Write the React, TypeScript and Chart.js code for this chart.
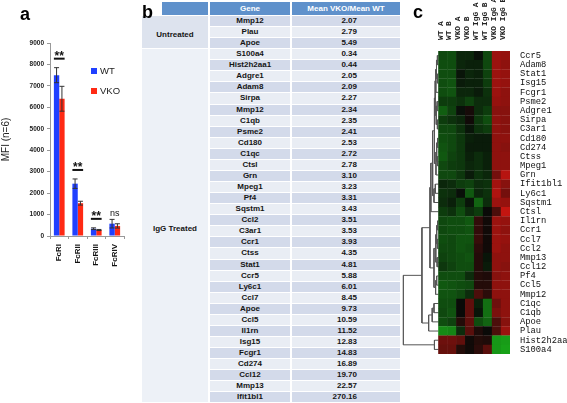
import React, { useEffect, useRef } from 'react';
import { Chart, registerables } from 'chart.js';
Chart.register(...registerables);

// ---------- Panel a data ----------
const receptors = ['FcRI', 'FcRII', 'FcRIII', 'FcRIV'];
const wtMean = [7500, 2440, 340, 575];
const wtErr = [350, 220, 40, 200];
const vkoMean = [6400, 1530, 280, 470];
const vkoErr = [580, 90, 25, 100];
const significance = ['**', '**', '**', 'ns'];
const seriesNames = ['WT', 'VKO'];

// ---------- Panel b data ----------
const untreatedGenes = ['Mmp12', 'Plau', 'Apoe'];
const untreatedRatios = ['2.07', '2.79', '5.49'];
const iggGenes = ['S100a4', 'Hist2h2aa1', 'Adgre1', 'Adam8', 'Sirpa', 'Mmp12', 'C1qb', 'Psme2', 'Cd180', 'C1qc', 'Ctsl', 'Grn', 'Mpeg1', 'Pf4', 'Sqstm1', 'Ccl2', 'C3ar1', 'Ccr1', 'Ctss', 'Stat1', 'Ccr5', 'Ly6c1', 'Ccl7', 'Apoe', 'Ccl5', 'Il1rn', 'Isg15', 'Fcgr1', 'Cd274', 'Ccl12', 'Mmp13', 'Ifit1bl1'];
const iggRatios = ['0.34', '0.44', '2.05', '2.09', '2.27', '2.34', '2.35', '2.41', '2.53', '2.72', '2.78', '3.10', '3.23', '3.31', '3.43', '3.51', '3.53', '3.93', '4.35', '4.81', '5.88', '6.01', '8.45', '9.73', '10.59', '11.52', '12.83', '14.83', '16.89', '19.70', '22.57', '270.16'];
const tableHeaders = ['Gene', 'Mean VKO/Mean WT'];
const groupNames = ['Untreated', 'IgG Treated'];

// ---------- Panel c data ----------
const heatCols = ['WT A', 'WT B', 'VKO A', 'VKO B', 'WT IgG A', 'WT IgG B', 'VKO IgG A', 'VKO IgG B'];
const heatGenes = ['Ccr5', 'Adam8', 'Stat1', 'Isg15', 'Fcgr1', 'Psme2', 'Adgre1', 'Sirpa', 'C3ar1', 'Cd180', 'Cd274', 'Ctss', 'Mpeg1', 'Grn', 'Ifit1bl1', 'Ly6c1', 'Sqstm1', 'Ctsl', 'Il1rn', 'Ccr1', 'Ccl7', 'Ccl2', 'Mmp13', 'Ccl12', 'Pf4', 'Ccl5', 'Mmp12', 'C1qc', 'C1qb', 'Apoe', 'Plau', 'Hist2h2aa1', 'S100a4'];
const heatValues = [
  [-1.1, -1.2, -0.5, -0.5, -0.1, -1.1, 2.2, 2.1],
  [-1.2, -1.2, -0.5, -0.4, -0.4, -1.1, 2.2, 2.0],
  [-1.2, -1.2, -0.2, -0.5, -0.4, -1.0, 2.2, 2.1],
  [-1.2, -1.3, -0.3, -0.4, -0.4, -0.9, 2.2, 2.1],
  [-1.2, -1.3, -0.5, -0.5, -0.3, -0.7, 2.2, 2.0],
  [-0.9, -0.9, -0.7, -1.0, -0.6, -0.6, 2.1, 2.0],
  [-1.5, -1.0, -0.1, 0.2, -0.6, -0.9, 1.9, 1.9],
  [-0.9, -0.7, -0.5, 0.1, -0.8, -1.2, 2.0, 1.9],
  [-1.1, -1.1, -0.7, -0.2, -0.7, -0.9, 2.0, 1.9],
  [-1.2, -1.1, -0.8, -0.4, -0.3, -0.3, 2.0, 2.0],
  [-1.3, -1.1, -0.8, -0.3, -0.3, -0.3, 2.0, 1.9],
  [-1.4, -1.0, -0.8, -0.4, -0.6, -0.4, 2.0, 2.0],
  [-1.1, -0.9, -0.8, -0.5, -0.6, -0.4, 2.0, 2.0],
  [-1.1, -1.1, -0.8, -0.3, -0.7, -0.5, 1.6, 2.6],
  [-0.5, -0.6, -0.9, -1.0, -0.6, -0.7, 2.3, 1.9],
  [-0.7, -0.6, -0.1, -1.4, -0.5, -0.7, 2.5, 1.6],
  [-0.6, -0.4, -0.9, -0.2, -1.6, -0.6, 2.2, 2.1],
  [-0.9, -0.7, -1.2, -0.6, -0.9, 0.0, 1.0, 2.8],
  [-1.1, -1.2, -1.2, -1.4, 0.6, 0.1, 2.2, 2.1],
  [-1.1, -1.2, -1.2, -1.3, 0.6, 0.1, 2.2, 2.0],
  [-1.2, -1.1, -1.3, -1.3, 0.7, 0.1, 2.2, 2.1],
  [-1.1, -1.1, -1.3, -1.2, 0.5, 0.1, 2.2, 2.0],
  [-1.0, -1.1, -1.2, -1.3, 0.4, -0.2, 2.0, 2.0],
  [-0.8, -1.0, -1.2, -1.2, 0.4, -0.3, 2.0, 1.9],
  [-1.2, -1.2, -1.2, -0.6, 0.4, 0.3, 1.9, 2.0],
  [-1.4, -1.3, -1.2, -1.1, 0.4, 0.4, 2.0, 2.0],
  [-1.3, -1.3, -1.1, -0.6, 1.0, 0.5, 2.0, 2.0],
  [-1.2, -1.2, 0.0, 1.3, -0.4, -1.8, 1.5, 2.0],
  [-1.1, -1.3, 0.0, 1.3, -0.2, -1.8, 1.7, 2.0],
  [-1.2, -1.0, 0.4, 1.3, -1.2, -1.6, 1.0, 1.9],
  [-2.3, -2.2, -0.6, 1.2, 0.3, 0.0, 1.0, 2.2],
  [1.5, 1.5, 1.3, 0.1, 0.4, 0.3, -2.5, -2.6],
  [1.4, 1.4, 0.4, 0.1, 0.5, 1.2, -2.5, -2.7],
];
// dendrogram merges: [childA, childB, height]; ids 0..32 are rows, 33+ are merges in order
const dendroMerges: [number, number, number][] = [
  [0, 1, 0.12], [2, 3, 0.12], [33, 34, 0.22], [35, 4, 0.3],
  [5, 6, 0.15], [7, 8, 0.12], [37, 38, 0.25], [36, 39, 0.38],
  [9, 10, 0.1], [11, 12, 0.12], [41, 42, 0.2], [43, 13, 0.28],
  [40, 44, 0.45], [14, 15, 0.35], [46, 16, 0.5], [45, 47, 0.65],
  [48, 17, 0.85], [18, 19, 0.1], [20, 21, 0.12], [50, 51, 0.2],
  [22, 23, 0.15], [52, 53, 0.3], [24, 25, 0.2], [55, 26, 0.32],
  [54, 56, 0.5], [49, 57, 0.95], [27, 28, 0.5], [59, 29, 0.7],
  [60, 30, 1.1], [58, 61, 1.85], [31, 32, 0.45], [62, 63, 3.95],
];

const FONT = '"Liberation Sans", Arial, sans-serif';
const MONO = '"Liberation Mono", "Courier New", monospace';

function heatColor(v: number) {
  if (v >= 0) {
    const r = Math.min(255, Math.round(10 + 66 * v));
    return `rgb(${r},${Math.round(10 + 4 * v)},${Math.round(8 + 3 * v)})`;
  }
  const a = -v;
  const g = Math.min(255, Math.round(10 + 56 * a));
  return `rgb(${Math.round(8 + 6 * a)},${g},${Math.round(8 + 6 * a)})`;
}

const barOverlay = {
  id: 'barOverlay',
  afterDatasetsDraw(chart: any) {
    const ctx = chart.ctx;
    const y = chart.scales.y;
    const errs = [wtErr, vkoErr];
    const means = [wtMean, vkoMean];
    ctx.save();
    chart.data.datasets.forEach((ds: any, i: number) => {
      const meta = chart.getDatasetMeta(i);
      meta.data.forEach((bar: any, j: number) => {
        const v = means[i][j], e = errs[i][j];
        const yt = y.getPixelForValue(v + e), yb = y.getPixelForValue(v - e);
        ctx.strokeStyle = '#333';
        ctx.lineWidth = 1;
        ctx.beginPath();
        ctx.moveTo(bar.x, yb); ctx.lineTo(bar.x, yt);
        ctx.moveTo(bar.x - 2.5, yt); ctx.lineTo(bar.x + 2.5, yt);
        ctx.moveTo(bar.x - 2.5, yb); ctx.lineTo(bar.x + 2.5, yb);
        ctx.stroke();
      });
    });
    receptors.forEach((_, j) => {
      const b0 = chart.getDatasetMeta(0).data[j];
      const b1 = chart.getDatasetMeta(1).data[j];
      const top = Math.min(y.getPixelForValue(wtMean[j] + wtErr[j]), y.getPixelForValue(vkoMean[j] + vkoErr[j]));
      const cx = (b0.x + b1.x) / 2;
      ctx.fillStyle = '#111';
      ctx.textAlign = 'center';
      ctx.textBaseline = 'alphabetic';
      if (significance[j] === '**') {
        const ly = top - 9;
        ctx.strokeStyle = '#111';
        ctx.lineWidth = 2;
        ctx.beginPath();
        ctx.moveTo(b0.x - b0.width / 2, ly); ctx.lineTo(b1.x + b1.width / 2, ly);
        ctx.stroke();
        ctx.font = `bold 12px ${FONT}`;
        ctx.fillText(significance[j], cx, ly + 1);
      } else {
        ctx.font = `9px ${FONT}`;
        ctx.fillText(significance[j], cx, top - 3);
      }
    });
    chart.data.datasets.forEach((ds: any, i: number) => {
      const ly = 71 + i * 20;
      ctx.fillStyle = ds.backgroundColor;
      ctx.fillRect(91, ly - 3, 6, 6);
      ctx.fillStyle = '#222';
      ctx.font = `9.5px ${FONT}`;
      ctx.textAlign = 'left';
      ctx.textBaseline = 'middle';
      ctx.fillText(ds.label, 100, ly + 0.5);
    });
    ctx.restore();
  },
};

function BarPanel() {
  const ref = useRef<HTMLCanvasElement>(null);
  useEffect(() => {
    const chart = new Chart(ref.current!, {
      type: 'bar',
      data: {
        labels: receptors,
        datasets: [
          { label: seriesNames[0], data: wtMean, backgroundColor: '#2040ff' },
          { label: seriesNames[1], data: vkoMean, backgroundColor: '#ff2a14' },
        ],
      },
      options: {
        animation: false,
        responsive: false,
        devicePixelRatio: 1,
        events: [],
        layout: { padding: { top: 43, right: 16, left: 0, bottom: 0 } },
        datasets: { bar: { categoryPercentage: 0.58, barPercentage: 1 } },
        plugins: { legend: { display: false }, tooltip: { enabled: false } },
        scales: {
          x: {
            grid: { drawOnChartArea: false, tickLength: 3, color: '#999' },
            border: { color: '#999' },
            ticks: { minRotation: 90, maxRotation: 90, padding: 5, color: '#111', font: { family: FONT, size: 8, weight: 'bold' } },
            afterFit: (s: any) => { s.height = 54; },
          },
          y: {
            min: 0, max: 9000,
            ticks: { stepSize: 1000, padding: 3, color: '#222', font: { family: FONT, size: 6.5, weight: 'bold' }, callback: (v: any) => String(v) },
            grid: { drawOnChartArea: false, tickLength: 3, color: '#999' },
            border: { color: '#999' },
            title: { display: true, text: 'MFI (n=6)', color: '#222', font: { family: FONT, size: 10 }, padding: 0 },
            afterFit: (s: any) => { s.width = 50; },
          },
        },
      } as any,
      plugins: [barOverlay],
    });
    return () => chart.destroy();
  }, []);
  return <canvas ref={ref} width={140} height={290} style={{ position: 'absolute', left: 0, top: 0, width: 140, height: 290 }} />;
}

function HeatPanel() {
  const ref = useRef<HTMLCanvasElement>(null);
  useEffect(() => {
    const cells: { x: number; y: number }[] = [];
    const colors: string[] = [];
    heatValues.forEach((row, r) => row.forEach((v, c) => { cells.push({ x: c, y: r }); colors.push(heatColor(v)); }));
    const nodes = heatGenes.map((_, i) => ({ y: i, h: 0 }));
    const segs: any[] = [];
    dendroMerges.forEach(([a, b, h]) => {
      const A = nodes[a], B = nodes[b];
      segs.push({
        data: [{ x: -0.5 - A.h, y: A.y }, { x: -0.5 - h, y: A.y }, { x: -0.5 - h, y: B.y }, { x: -0.5 - B.h, y: B.y }],
        showLine: true, pointRadius: 0, borderColor: '#555', borderWidth: 1, fill: false,
      });
      nodes.push({ y: (A.y + B.y) / 2, h });
    });
    const chart = new Chart(ref.current!, {
      type: 'scatter',
      data: {
        datasets: [
          { data: cells, pointStyle: 'rect', pointRadius: 6.7, backgroundColor: colors, borderWidth: 0 },
          ...segs,
        ],
      },
      options: {
        animation: false,
        responsive: false,
        devicePixelRatio: 1,
        events: [],
        layout: { padding: { left: 4.5, top: 0, right: 0, bottom: 49 } },
        plugins: { legend: { display: false }, tooltip: { enabled: false } },
        scales: {
          x: {
            type: 'linear', position: 'top', min: -4.5, max: 7.5,
            grid: { display: false }, border: { display: false },
            afterBuildTicks: (s: any) => { s.ticks = heatCols.map((_, i) => ({ value: i })); },
            ticks: { autoSkip: false, minRotation: 90, maxRotation: 90, padding: 3, labelOffset: 7, color: '#222', font: { family: MONO, size: 7.8, weight: 'bold' }, callback: (v: any) => heatCols[Math.round(v)] ?? '' },
            afterFit: (s: any) => { s.height = 51; },
          },
          y: {
            type: 'linear', position: 'right', reverse: true, min: -0.5, max: 32.5,
            grid: { display: false }, border: { display: false },
            afterBuildTicks: (s: any) => { s.ticks = heatGenes.map((_, i) => ({ value: i })); },
            ticks: { autoSkip: false, padding: 2, color: '#111', font: { family: MONO, size: 8.8 }, callback: (v: any) => heatGenes[Math.round(v)] ?? '' },
            afterFit: (s: any) => { s.width = 57; },
          },
        },
      } as any,
    });
    return () => chart.destroy();
  }, []);
  return <canvas ref={ref} width={171} height={403} style={{ position: 'absolute', left: 396, top: 0, width: 171, height: 403 }} />;
}

function TablePanel() {
  const ROW_H = 11.07;
  const TOP = 16;
  const rows = [
    ...untreatedGenes.map((g, i) => ({ g, r: untreatedRatios[i] })),
    ...iggGenes.map((g, i) => ({ g, r: iggRatios[i] })),
  ];
  const txt: React.CSSProperties = { position: 'absolute', fontFamily: FONT, fontWeight: 'bold', fontSize: 8, color: '#151515', whiteSpace: 'nowrap' };
  const groups = [
    { name: groupNames[0], start: 0, n: untreatedGenes.length, bg: '#dde3ee' },
    { name: groupNames[1], start: untreatedGenes.length, n: iggGenes.length, bg: '#edf1f7' },
  ];
  return (
    <>
      <div style={{ position: 'absolute', left: 142, top: 2, width: 66, height: 13, background: '#5f91cb' }} />
      <div style={{ ...txt, left: 210, top: 2, width: 80, height: 13, lineHeight: '13px', textAlign: 'center', background: '#5f91cb', color: '#fff' }}>{tableHeaders[0]}</div>
      <div style={{ ...txt, left: 292, top: 2, width: 108, height: 13, lineHeight: '13px', textAlign: 'center', background: '#5f91cb', color: '#fff' }}>{tableHeaders[1]}</div>
      {groups.map((gr) => {
        const top = TOP + gr.start * ROW_H;
        const h = gr.n * ROW_H - 1;
        return (
          <div key={gr.name} style={{ ...txt, left: 142, top, width: 66, height: h, lineHeight: `${h + 6}px`, textAlign: 'center', background: gr.bg }}>{gr.name}</div>
        );
      })}
      {rows.map((row, i) => {
        const top = TOP + i * ROW_H;
        const bg = i % 2 === 0 ? '#d3daea' : '#e9edf4';
        return (
          <React.Fragment key={i}>
            <div style={{ ...txt, left: 210, top, width: 80, height: ROW_H - 1, lineHeight: `${ROW_H - 1}px`, textAlign: 'center', background: bg }}>{row.g}</div>
            <div style={{ ...txt, left: 292, top, width: 65, paddingRight: 43, height: ROW_H - 1, lineHeight: `${ROW_H - 1}px`, textAlign: 'right', background: bg }}>{row.r}</div>
          </React.Fragment>
        );
      })}
      <div style={{ position: 'absolute', left: 140, top: 0, width: 22, height: 16, background: '#fff' }} />
    </>
  );
}

const letter: React.CSSProperties = { position: 'absolute', fontFamily: FONT, fontWeight: 'bold', fontSize: 18, lineHeight: '18px', color: '#000' };

export default function App() {
  return (
    <div style={{ position: 'fixed', left: 0, top: 0, width: 567, height: 403, background: '#fff', overflow: 'hidden' }}>
      <BarPanel />
      <TablePanel />
      <HeatPanel />
      <div style={{ ...letter, left: 20, top: 5 }}>a</div>
      <div style={{ ...letter, left: 142, top: 3 }}>b</div>
      <div style={{ ...letter, left: 413, top: 3 }}>c</div>
    </div>
  );
}
